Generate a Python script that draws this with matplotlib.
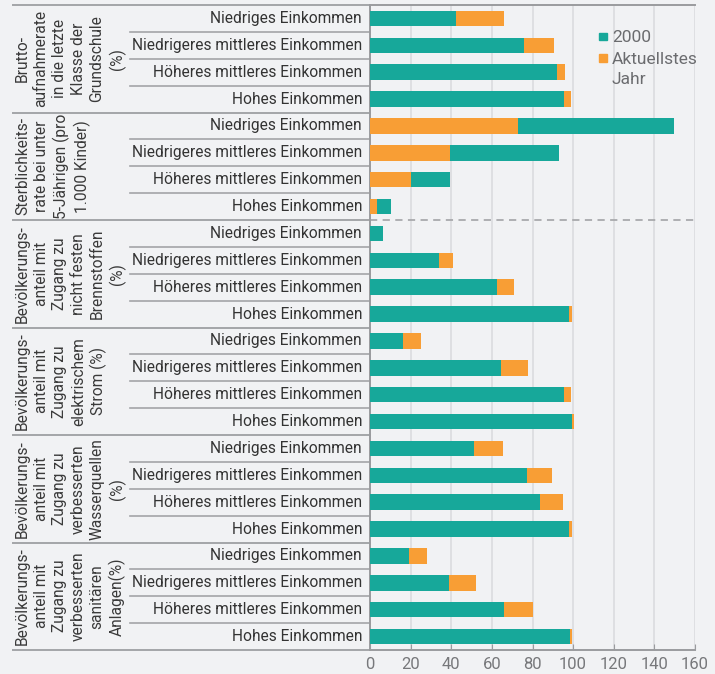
import matplotlib
matplotlib.use("Agg")
import matplotlib.pyplot as plt
import matplotlib.transforms as transforms
from matplotlib.patches import Rectangle

plt.rcParams['font.family'] = ['Roboto', 'DejaVu Sans']

# indicator groups (label text, one entry per group)
groups = [
    "Brutto-\naufnahmerate\nin die letzte\nKlasse der\nGrundschule\n(%)",
    "Sterblichkeits-\nrate bei unter\n5-Jährigen (pro\n1.000 Kinder)",
    "Bevölkerungs-\nanteil mit\nZugang zu\nnicht festen\nBrennstoffen\n(%)",
    "Bevölkerungs-\nanteil mit\nZugang zu\nelektrischem\nStrom (%)",
    "Bevölkerungs-\nanteil mit\nZugang zu\nverbesserten\nWasserquellen\n(%)",
    "Bevölkerungs-\nanteil mit\nZugang zu\nverbesserten\nsanitären\nAnlagen(%)",
]
income = ["Niedriges Einkommen", "Niedrigeres mittleres Einkommen",
          "Höheres mittleres Einkommen", "Hohes Einkommen"]

values_2000 = [42.5, 76.0, 92.3, 95.3,
               149.6, 92.8, 39.5, 10.4,
               6.4, 34.1, 62.7, 97.8,
               16.3, 64.7, 95.3, 99.3,
               51.4, 77.5, 83.5, 97.8,
               19.3, 39.0, 66.2, 98.3]
values_latest = [66.2, 90.4, 95.8, 98.8,
                 73.1, 39.5, 20.2, 3.5,
                 6.4, 41.0, 71.1, 99.3,
                 25.2, 78.0, 98.8, 100.2,
                 65.7, 89.4, 94.8, 99.3,
                 28.1, 52.3, 80.0, 99.3]
x_ticks = [0, 20, 40, 60, 80, 100, 120, 140, 160]

teal = '#17a89a'
orange = '#f89e35'
bg = '#f1f2f4'
line_gray = '#a3a5a8'
fs = 11.2

fig = plt.figure(figsize=(7.15, 6.74), dpi=100, facecolor=bg)
ax = fig.add_axes([370 / 715, 1 - 650 / 674, 325 / 715, 645 / 674])
ax.set_facecolor(bg)

n_rows = len(groups) * len(income)
rows = list(range(n_rows))

# longer bar first, shorter one drawn on top of it
for y, a, b in zip(rows, values_2000, values_latest):
    if b >= a:
        ax.barh(y, b, height=0.58, color=orange, zorder=2)
        ax.barh(y, a, height=0.58, color=teal, zorder=3)
    else:
        ax.barh(y, a, height=0.58, color=teal, zorder=2)
        ax.barh(y, b, height=0.58, color=orange, zorder=3)

ax.set_xlim(0, 160)
ax.set_ylim(n_rows - 0.5, -0.5)
ax.set_xticks(x_ticks)
ax.set_yticks([])
ax.grid(axis='x', color='#dcdee1', linewidth=1.3, zorder=0)
ax.set_axisbelow(True)
ax.tick_params(axis='x', direction='in', length=4, color='#9a9b9e',
               labelcolor='#77787b', labelsize=12, pad=5)
ax.spines['right'].set_visible(False)
for side in ['left', 'bottom', 'top']:
    ax.spines[side].set_color('#9a9b9e')
    ax.spines[side].set_linewidth(1.4)

# dashed divider between mortality and access indicators
ax.axhline(7.5, color='#a8a9ac', linestyle=(0, (4, 3)), linewidth=1.3, zorder=1)

# label table on the left
trans = transforms.blended_transform_factory(ax.transAxes, ax.transData)
x_group_left = (13 - 370) / 325
x_cat_left = (130 - 370) / 325
x_cat_text = (362 - 370) / 325
x_group_text = (15 - 370) / 325

for r in rows:
    ax.text(x_cat_text, r, income[r % 4], transform=trans, ha='right', va='center',
            fontsize=fs, color='#333333')
    if r % 4 != 3:
        ax.plot([x_cat_left, 0], [r + 0.5, r + 0.5], transform=trans,
                color=line_gray, linewidth=1.2, clip_on=False)

for g, label in enumerate(groups):
    ax.plot([x_group_left, 0], [g * 4 - 0.5, g * 4 - 0.5], transform=trans,
            color=line_gray, linewidth=1.4, clip_on=False)
    ax.text(x_group_text, g * 4 + 1.5, label, transform=trans, rotation=90,
            ha='left', va='center', multialignment='center', fontsize=fs,
            color='#3a3a3a', linespacing=1.3)
ax.plot([x_group_left, 0], [n_rows - 0.5, n_rows - 0.5], transform=trans,
        color=line_gray, linewidth=1.4, clip_on=False)

# legend
leg_x = (599 - 370) / 325
text_x = (612 - 370) / 325
sq_w = 7.5 / 325
sq_h = 7.5 / 645
ax.add_patch(Rectangle((leg_x, 1 - 31.5 / 645 - sq_h / 2), sq_w, sq_h,
                       transform=ax.transAxes, color=teal, zorder=5))
ax.add_patch(Rectangle((leg_x, 1 - 53 / 645 - sq_h / 2), sq_w, sq_h,
                       transform=ax.transAxes, color=orange, zorder=5))
for label, y_px in [("2000", 32), ("Aktuellstes", 54), ("Jahr", 75)]:
    ax.text(text_x, 1 - y_px / 645, label, transform=ax.transAxes,
            ha='left', va='center', fontsize=12.5, color='#6b6c6f')

fig.savefig('out.png', dpi=100, facecolor=bg)
